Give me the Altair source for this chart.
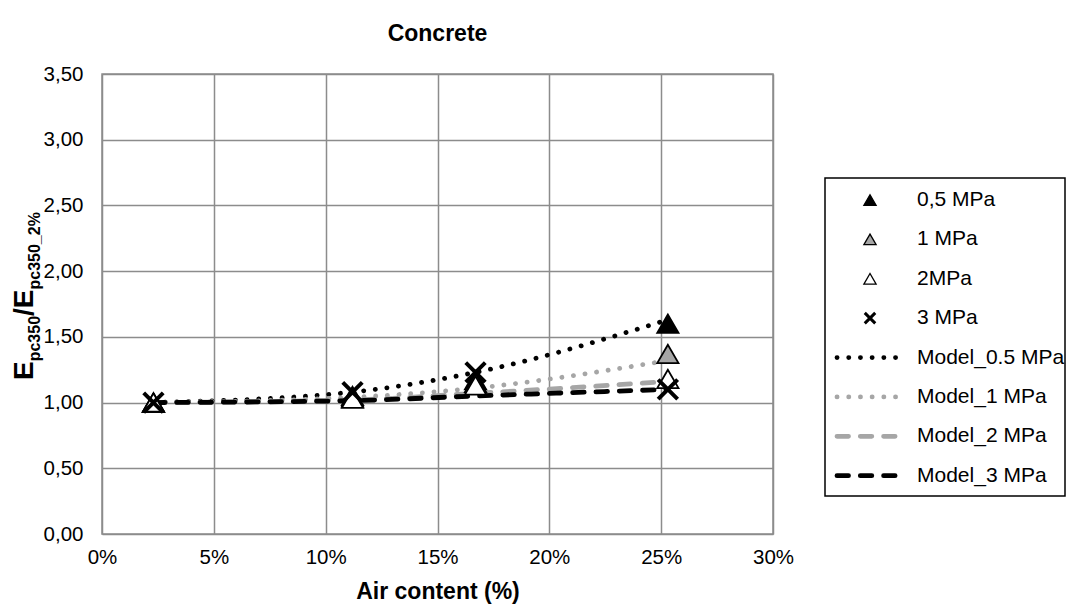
import altair as alt
import pandas as pd

# ---------------- data ----------------
air = [2.3, 11.2, 16.7, 25.3]
p05 = [1.00, 1.05, 1.17, 1.60]
p1 = [1.00, 1.04, 1.15, 1.37]
p2 = [1.00, 1.03, 1.13, 1.18]
p3 = [1.00, 1.08, 1.23, 1.10]
m05 = [1.00, 1.08, 1.23, 1.63]
m1 = [1.00, 1.04, 1.11, 1.32]
m2 = [1.00, 1.02, 1.07, 1.16]
m3 = [1.00, 1.015, 1.05, 1.10]

x_ticks = [0, 5, 10, 15, 20, 25, 30]
y_ticks = [0, 0.5, 1.0, 1.5, 2.0, 2.5, 3.0, 3.5]
legend_labels = ["0,5 MPa", "1 MPa", "2MPa", "3 MPa",
                 "Model_0.5 MPa", "Model_1 MPa", "Model_2 MPa", "Model_3 MPa"]

# ---------------- style ----------------
FONT = "Liberation Sans"
GRID = "#8c8c8c"
LGRAY = "#a6a6a6"
DOT = [0.1, 11.6]
DASH = [11.5, 11.8]
XPATH = "M-1,-1L1,1M1,-1L-1,1"
W, H = 671, 460

xs = alt.Scale(domain=[0, 30], nice=False, zero=False)
ys = alt.Scale(domain=[0, 3.5], nice=False)
xaxis = alt.Axis(values=x_ticks, labelExpr="datum.value + '%'", title="Air content (%)",
                 grid=True, gridColor=GRID, gridWidth=1.5, domain=False, ticks=False,
                 labelFlush=False,
                 labelFont=FONT, labelFontSize=20.5, labelColor="black", labelPadding=13,
                 titleFont=FONT, titleFontSize=23, titleFontWeight="bold", titleColor="black",
                 titlePadding=13)
yaxis = alt.Axis(values=y_ticks, labelExpr="replace(format(datum.value, '.2f'), '.', ',')",
                 title=None, grid=True, gridColor=GRID, gridWidth=1.5, domain=False, ticks=False,
                 labelFlush=False,
                 labelFont=FONT, labelFontSize=20.5, labelColor="black", labelPadding=19)


def xy():
    return dict(x=alt.X("x:Q", scale=xs, axis=xaxis), y=alt.Y("y:Q", scale=ys, axis=yaxis))


def line(vals, color, dash):
    df = pd.DataFrame({"x": air, "y": vals})
    return alt.Chart(df).mark_line(color=color, strokeDash=dash, strokeWidth=4.8,
                                   strokeCap="round", interpolate="monotone").encode(**xy())


def tri(vals, fill, size=450):
    df = pd.DataFrame({"x": air, "y": vals})
    return alt.Chart(df).mark_point(shape="triangle-up", filled=True, fill=fill, stroke="black",
                                    strokeWidth=1.8, size=size, opacity=1).encode(**xy())


def cross(vals):
    df = pd.DataFrame({"x": air, "y": vals})
    return alt.Chart(df).mark_point(shape=XPATH, filled=False, color="black", strokeWidth=4,
                                    size=380, opacity=1).encode(**xy())


def label(txt, x, y, size):
    return alt.Chart(pd.DataFrame({"t": [txt]})).mark_text(
        angle=270, align="left", baseline="alphabetic", font=FONT, fontSize=size,
        fontWeight="bold", color="black").encode(text="t:N", x=alt.value(x), y=alt.value(y))


ytitle = [
    label("E", -69, 306, 28),
    label("pc350", -62, 287.3, 16),
    label("/", -69, 242, 28),
    label("E", -69, 234.2, 28),
    label("pc350_2%", -62, 215.5, 16),
]

main = alt.layer(
    line(m05, "black", DOT),
    line(m1, LGRAY, DOT),
    line(m2, LGRAY, DASH),
    line(m3, "black", DASH),
    tri(p05, "black"),
    tri(p1, LGRAY),
    tri(p2, "white"),
    cross(p3),
    *ytitle,
).properties(
    width=W, height=H,
    view=alt.ViewBackground(stroke=GRID, strokeWidth=1.5),
    title=alt.TitleParams("Concrete", font=FONT, fontSize=23, fontWeight="bold",
                          color="black", anchor="middle", offset=18),
)

# ---------------- legend panel ----------------
LW = 240
lx = alt.Scale(domain=[0, LW], nice=False, zero=False)
ly = alt.Scale(domain=[-3.2, 8.48], nice=False, zero=False, reverse=True)


def lxy():
    return dict(x=alt.X("x:Q", scale=lx, axis=None), y=alt.Y("y:Q", scale=ly, axis=None))


leg_layers = [
    alt.Chart(pd.DataFrame({"a": [0]})).mark_rect(fill="white", stroke="black", strokeWidth=1.5)
    .encode(x=alt.value(0), x2=alt.value(LW), y=alt.value(104), y2=alt.value(422))
]
marker_styles = [("triangle-up", "black"), ("triangle-up", LGRAY), ("triangle-up", "white")]
for i, (shp, fill) in enumerate(marker_styles):
    leg_layers.append(
        alt.Chart(pd.DataFrame({"x": [45], "y": [i]})).mark_point(
            shape=shp, filled=True, fill=fill, stroke="black", strokeWidth=1.3, size=150, opacity=1
        ).encode(**lxy()))
leg_layers.append(
    alt.Chart(pd.DataFrame({"x": [45], "y": [3]})).mark_point(
        shape=XPATH, filled=False, color="black", strokeWidth=3, size=110, opacity=1
    ).encode(**lxy()))
line_styles = [("black", DOT), (LGRAY, DOT), (LGRAY, DASH), ("black", DASH)]
for j, (col, dash) in enumerate(line_styles):
    r = 4 + j
    leg_layers.append(
        alt.Chart(pd.DataFrame({"x": [12, 78], "y": [r, r]})).mark_line(
            color=col, strokeDash=dash, strokeWidth=4.8, strokeCap="round"
        ).encode(**lxy()))
leg_layers.append(
    alt.Chart(pd.DataFrame({"x": [92] * 8, "y": list(range(8)), "t": legend_labels})).mark_text(
        align="left", baseline="middle", font=FONT, fontSize=21, color="black"
    ).encode(text="t:N", **lxy()))

legend = alt.layer(*leg_layers).properties(
    width=LW, height=H, view=alt.ViewBackground(strokeOpacity=0))

chart = alt.hconcat(main, legend, spacing=52, bounds="flush").properties(
    padding={"left": 10, "top": 22, "right": 0, "bottom": 0}
).configure(font=FONT)

chart.save("out.html", embed_options={"renderer": "svg", "actions": False})
